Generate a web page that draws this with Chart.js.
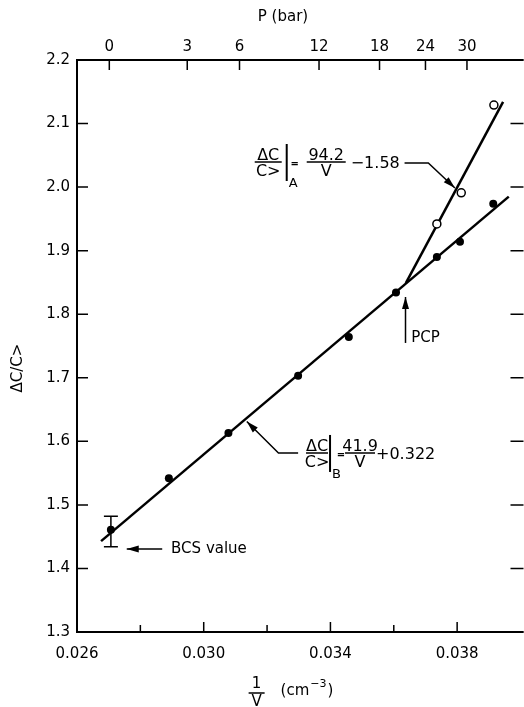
<!DOCTYPE html>
<html>
<head>
<meta charset="utf-8">
<script src="https://cdn.jsdelivr.net/npm/chart.js@4.4.0/dist/chart.umd.min.js"></script>
<style>
  html, body { margin: 0; padding: 0; background: #fff; overflow: hidden; }
  #wrap { width: 526px; height: 707px; }
</style>
</head>
<body>
<div id="wrap"><canvas id="myChart"></canvas></div>
<script>
// 1/V (cm^-3) on x, ΔC/C> on y
const filledX = [0.02707, 0.02890, 0.03078, 0.03298, 0.03458, 0.03607, 0.03736, 0.03809, 0.03914];
const filledY = [1.461, 1.542, 1.613, 1.703, 1.764, 1.834, 1.890, 1.914, 1.974];
const openX = [0.03736, 0.03813, 0.03916];
const openY = [1.942, 1.991, 2.129];

// fitted lines (end points)
const lineBX = [0.02676, 0.03963];
const lineBY = [1.443, 1.985];
const lineAX = [0.03638, 0.03945];
const lineAY = [1.849, 2.134];

// BCS value error bar
const bcsErrX = [0.02707];
const bcsErrLow = [1.434];
const bcsErrHigh = [1.482];

// axes
const xMajor = [0.026, 0.030, 0.034, 0.038];
const xMinor = [0.028, 0.032, 0.036];
const yTicks = [1.3, 1.4, 1.5, 1.6, 1.7, 1.8, 1.9, 2.0, 2.1, 2.2];
const pressureLabels = ['0', '3', '6', '12', '18', '24', '30'];
const pressurePos = [0.02702, 0.02948, 0.03113, 0.03364, 0.03555, 0.03700, 0.03831];

const FONT = '"DejaVu Sans", sans-serif';

const toPts = (xs, ys) => xs.map((x, i) => ({x: x, y: ys[i]}));

function arrow(ctx, pts, head) {
  ctx.beginPath();
  ctx.moveTo(pts[0][0], pts[0][1]);
  for (let i = 1; i < pts.length; i++) ctx.lineTo(pts[i][0], pts[i][1]);
  ctx.stroke();
  const [x1, y1] = pts[pts.length - 2];
  const [x2, y2] = pts[pts.length - 1];
  const a = Math.atan2(y2 - y1, x2 - x1);
  ctx.beginPath();
  ctx.moveTo(x2, y2);
  ctx.lineTo(x2 - head * Math.cos(a) + 3.5 * Math.sin(a), y2 - head * Math.sin(a) - 3.5 * Math.cos(a));
  ctx.lineTo(x2 - head * Math.cos(a) - 3.5 * Math.sin(a), y2 - head * Math.sin(a) + 3.5 * Math.cos(a));
  ctx.closePath();
  ctx.fill();
}

function equation(ctx, px, py, e) {
  ctx.font = '16px ' + FONT;
  ctx.textAlign = 'center';
  ctx.textBaseline = 'alphabetic';
  ctx.fillText('ΔC', px + e.fracW / 2, py - 2);
  ctx.fillText('C>', px + e.fracW / 2, py + 14);
  ctx.fillText(e.num, px + e.numDx, py - 2);
  ctx.fillText('V', px + e.numDx, py + 14);
  ctx.lineWidth = 1.5;
  ctx.beginPath();
  ctx.moveTo(px, py); ctx.lineTo(px + e.fracW, py);
  ctx.moveTo(px + e.numDx - e.numW / 2, py); ctx.lineTo(px + e.numDx + e.numW / 2, py);
  ctx.stroke();
  ctx.lineWidth = 2;
  ctx.beginPath();
  ctx.moveTo(px + e.barDx, py - 18); ctx.lineTo(px + e.barDx, py + 19);
  ctx.stroke();
  ctx.font = 'bold 10px ' + FONT;
  ctx.textBaseline = 'middle';
  ctx.fillText('=', px + e.eqDx, py + 2);
  ctx.font = '13px ' + FONT;
  ctx.textAlign = 'left';
  ctx.textBaseline = 'alphabetic';
  ctx.fillText(e.sub, px + e.barDx + 2, py + 25);
  ctx.font = '16px ' + FONT;
  ctx.textBaseline = 'middle';
  ctx.fillText(e.tail, px + e.tailDx, py + 2);
}

const decorations = {
  id: 'decorations',
  afterDatasetsDraw(chart) {
    const {ctx, chartArea: a, scales} = chart;
    const xs = scales.x, ys = scales.y, tp = scales.xTop;
    const X = v => xs.getPixelForValue(v);
    const Y = v => ys.getPixelForValue(v);
    ctx.save();
    ctx.strokeStyle = '#000';
    ctx.fillStyle = '#000';

    // frame (right edge falls off the page) and inward ticks
    ctx.lineWidth = 2;
    ctx.beginPath();
    ctx.moveTo(a.right + 3, a.top);
    ctx.lineTo(a.left, a.top);
    ctx.lineTo(a.left, a.bottom);
    ctx.lineTo(a.right + 3, a.bottom);
    ctx.stroke();
    ctx.lineWidth = 1.5;
    ctx.beginPath();
    xMajor.forEach(v => { ctx.moveTo(X(v), a.bottom); ctx.lineTo(X(v), a.bottom - 10); });
    xMinor.forEach(v => { ctx.moveTo(X(v), a.bottom); ctx.lineTo(X(v), a.bottom - 7); });
    pressurePos.forEach(v => { const p = tp.getPixelForValue(v); ctx.moveTo(p, a.top); ctx.lineTo(p, a.top + 10); });
    yTicks.forEach(v => {
      ctx.moveTo(a.left, Y(v)); ctx.lineTo(a.left + 11, Y(v));
      ctx.moveTo(a.right + 3, Y(v)); ctx.lineTo(a.right - 10, Y(v));
    });
    ctx.stroke();

    // error bar on the BCS value
    bcsErrX.forEach((v, i) => {
      const px = X(v), lo = Y(bcsErrLow[i]), hi = Y(bcsErrHigh[i]);
      ctx.beginPath();
      ctx.moveTo(px, lo); ctx.lineTo(px, hi);
      ctx.moveTo(px - 7, lo); ctx.lineTo(px + 7, lo);
      ctx.moveTo(px - 7, hi); ctx.lineTo(px + 7, hi);
      ctx.stroke();
    });

    // leaders and arrows
    ctx.lineWidth = 1.5;
    arrow(ctx, [[X(0.03634), Y(2.038)], [X(0.03709), Y(2.038)], [X(0.03793), Y(1.9986)]], 12);
    arrow(ctx, [[X(0.03298), Y(1.5817)], [X(0.03236), Y(1.5817)], [X(0.03136), Y(1.6313)]], 12);
    arrow(ctx, [[X(0.03637), Y(1.7548)], [X(0.03637), Y(1.8271)]], 12);
    arrow(ctx, [[X(0.02869), Y(1.4307)], [X(0.02757), Y(1.4307)]], 12);

    ctx.font = '15px ' + FONT;
    ctx.textAlign = 'left';
    ctx.textBaseline = 'middle';
    ctx.fillText('PCP', X(0.03655), Y(1.7626));
    ctx.fillText('BCS value', X(0.02897), Y(1.4307));

    equation(ctx, X(0.03161), Y(2.0395), {fracW: 27, barDx: 32, eqDx: 40, num: '94.2', numDx: 71.5, numW: 39, sub: 'A', tail: '−1.58', tailDx: 96});
    equation(ctx, X(0.03323), Y(1.5817), {fracW: 22, barDx: 24, eqDx: 35, num: '41.9', numDx: 54, numW: 30, sub: 'B', tail: '+0.322', tailDx: 70});

    // axis titles
    ctx.font = '15px ' + FONT;
    ctx.textAlign = 'center';
    ctx.textBaseline = 'middle';
    ctx.fillText('P (bar)', 283, 17);
    ctx.save();
    ctx.translate(18, 368);
    ctx.rotate(-Math.PI / 2);
    ctx.fillText('ΔC/C>', 0, 0);
    ctx.restore();

    const fx = X(0.03167), by = a.bottom;
    ctx.textBaseline = 'alphabetic';
    ctx.fillText('1', fx, by + 56);
    ctx.fillText('V', fx, by + 74);
    ctx.lineWidth = 1.5;
    ctx.beginPath();
    ctx.moveTo(fx - 8, by + 61); ctx.lineTo(fx + 8, by + 61);
    ctx.stroke();
    ctx.textAlign = 'left';
    let tx = fx + 24;
    ctx.fillText('(cm', tx, by + 63);
    tx += ctx.measureText('(cm').width + 1;
    ctx.font = '11px ' + FONT;
    ctx.fillText('−3', tx, by + 55);
    tx += ctx.measureText('−3').width + 1;
    ctx.font = '15px ' + FONT;
    ctx.fillText(')', tx, by + 63);
    ctx.restore();
  }
};

Chart.defaults.font.family = FONT;
Chart.defaults.font.size = 15;
Chart.defaults.color = '#000';

function plotChart() {
  const ctx = document.getElementById('myChart').getContext('2d');
  new Chart(ctx, {
    type: 'scatter',
    data: {
      datasets: [
        {data: toPts(filledX, filledY), pointRadius: 4, pointBackgroundColor: '#000', pointBorderColor: '#000', borderWidth: 0},
        {data: toPts(openX, openY), pointRadius: 4, pointBackgroundColor: '#fff', pointBorderColor: '#000', pointBorderWidth: 1.5},
        {data: toPts(lineBX, lineBY), showLine: true, pointRadius: 0, borderColor: '#000', borderWidth: 2.5},
        {data: toPts(lineAX, lineAY), showLine: true, pointRadius: 0, borderColor: '#000', borderWidth: 2.5}
      ]
    },
    options: {
      responsive: true,
      maintainAspectRatio: false,
      animation: false,
      layout: {padding: {left: 0, right: 1, top: 0, bottom: 0}},
      plugins: {legend: {display: false}, tooltip: {enabled: false}},
      scales: {
        x: {
          type: 'linear', position: 'bottom', min: 0.026, max: 0.040,
          grid: {display: false, drawTicks: false}, border: {display: false},
          afterBuildTicks: s => { s.ticks = xMajor.map(v => ({value: v})); },
          afterFit: s => { s.height = 75; },
          ticks: {autoSkip: false, maxRotation: 0, padding: 13, callback: v => v.toFixed(3)}
        },
        xTop: {
          type: 'linear', position: 'top', min: 0.026, max: 0.040,
          grid: {display: false, drawTicks: false}, border: {display: false},
          afterBuildTicks: s => { s.ticks = pressurePos.map(v => ({value: v})); },
          afterFit: s => { s.height = 60; },
          ticks: {autoSkip: false, maxRotation: 0, padding: 4, callback: (v, i) => pressureLabels[i]}
        },
        y: {
          type: 'linear', position: 'left', min: 1.3, max: 2.2,
          grid: {display: false, drawTicks: false}, border: {display: false},
          afterBuildTicks: s => { s.ticks = yTicks.map(v => ({value: v})); },
          afterFit: s => { s.width = 77; },
          ticks: {autoSkip: false, padding: 7, callback: v => v.toFixed(1)}
        }
      }
    },
    plugins: [decorations]
  });
}

plotChart();
</script>
</body>
</html>
